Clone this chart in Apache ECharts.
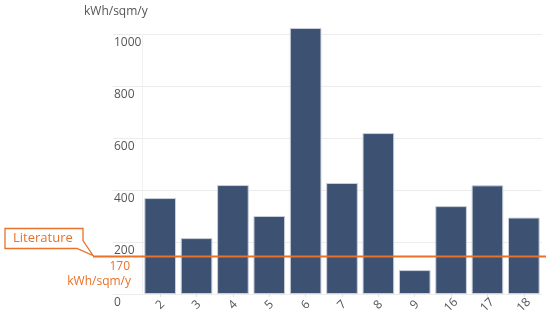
<!DOCTYPE html>
<html><head><meta charset="utf-8">
<script src="https://cdn.jsdelivr.net/npm/echarts@6/dist/echarts.min.js"></script>
<style>html,body{margin:0;padding:0;background:#fff}#c{width:550px;height:321px}</style>
</head><body><div id="c"></div>
<script>
const categories = ['2','3','4','5','6','7','8','9','16','17','18'];
const values = [369, 215, 419, 300, 1023, 427, 619, 92, 338, 418, 294];
const yTicks = [0, 200, 400, 600, 800, 1000];
const literatureValue = 146;
const literatureLabel = ['170', 'kWh/sqm/y'];
const unit = 'kWh/sqm/y';

const FONT = '"Open Sans", "Noto Sans", sans-serif';
const ORANGE = '#e9712a';
const chart = echarts.init(document.getElementById('c'), null, {renderer: 'canvas'});
const TOP = 34, BOTTOM = 27;
chart.setOption({
  animation: false,
  grid: [
    {left: 113, right: 8, top: TOP, bottom: BOTTOM},
    {left: 142, right: 8, top: TOP, bottom: BOTTOM}
  ],
  xAxis: [
    {gridIndex: 0, type: 'value', show: false, min: 0, max: 1},
    {gridIndex: 1, type: 'category', data: categories,
     axisLine: {show: false},
     axisTick: {show: true, alignWithLabel: true, length: 3, lineStyle: {color: '#e2e2e2'}},
     axisLabel: {rotate: 45, align: 'center', verticalAlign: 'middle', color: '#555', fontFamily: FONT, fontSize: 12, margin: 11}}
  ],
  yAxis: [
    {gridIndex: 0, type: 'value', min: 0, max: yTicks[yTicks.length-1], interval: 200,
     axisLine: {show: false}, axisTick: {show: false}, axisLabel: {show: false},
     splitLine: {lineStyle: {color: '#ececec', width: 1}}},
    {gridIndex: 1, type: 'value', min: 0, max: yTicks[yTicks.length-1], interval: 200,
     axisLine: {show: true, lineStyle: {color: '#f0f0f0'}}, axisTick: {show: false},
     splitLine: {show: false},
     axisLabel: {color: '#555', fontFamily: FONT, fontSize: 12, align: 'left', margin: 28,
       verticalAlign: 'top', padding: [3, 0, 0, 0], formatter: v => String(v)}}
  ],
  series: [{
    type: 'bar', xAxisIndex: 1, yAxisIndex: 1, data: values, clip: false,
    barCategoryGap: '13%',
    itemStyle: {color: '#3d5173', borderColor: '#c9d0db', borderWidth: 1}
  }]
});

const ly = chart.convertToPixel({yAxisIndex: 1}, literatureValue);
const ly0 = Math.round(ly) + 0.5;
chart.setOption({
  graphic: [
    {type: 'text', left: 84, top: 6, style: {text: unit, fill: '#555', font: '12px ' + FONT}},
    {type: 'line', shape: {x1: 93, y1: ly0, x2: 546, y2: ly0}, style: {stroke: ORANGE, lineWidth: 2}, z: 10},
    {type: 'polygon', shape: {points: [[5, ly0-28], [83, ly0-28], [83, ly0-16], [93, ly0-1], [77, ly0-8], [5, ly0-8]]},
     style: {fill: '#fff', stroke: ORANGE, lineWidth: 1.3}, z: 11},
    {type: 'text', x: 13, y: ly0-18, style: {text: 'Literature', fill: ORANGE, font: '13px ' + FONT, textVerticalAlign: 'middle'}, z: 12},
    {type: 'text', x: 130, y: ly0+10, style: {text: literatureLabel[0], fill: ORANGE, font: '12px ' + FONT, textAlign: 'right', textVerticalAlign: 'middle'}, z: 12},
    {type: 'text', x: 131, y: ly0+25, style: {text: literatureLabel[1], fill: ORANGE, font: '12px ' + FONT, textAlign: 'right', textVerticalAlign: 'middle'}, z: 12}
  ]
});
</script></body></html>
